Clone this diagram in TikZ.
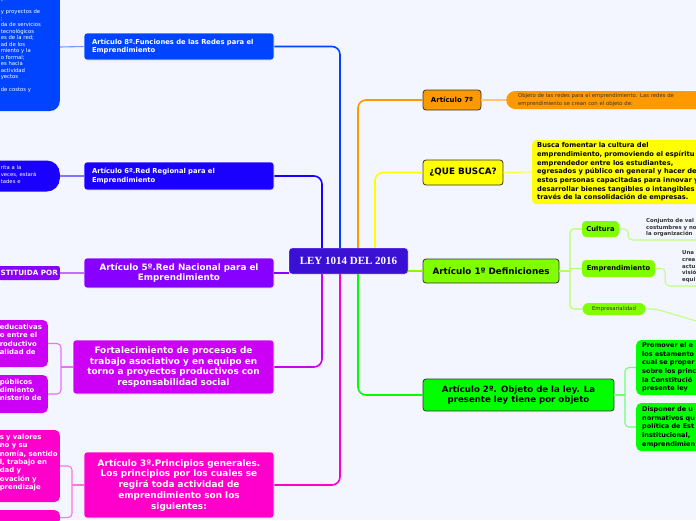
\documentclass[tikz,border=0pt]{standalone}
\usepackage{fontspec}
\setmainfont{DejaVu Sans}
\newfontfamily\leyfont{Liberation Serif}
\usetikzlibrary{positioning}

\definecolor{fondo}{HTML}{F3F6FE}
\definecolor{azul}{HTML}{0044FF}
\definecolor{azulrey}{HTML}{1A00FF}
\definecolor{violeta}{HTML}{8800FF}
\definecolor{purpura}{HTML}{CC00F5}
\definecolor{rosa}{HTML}{FF00CC}
\definecolor{indigo}{HTML}{3A10D4}
\definecolor{naranja}{HTML}{FF9900}
\definecolor{amarillo}{HTML}{FFFF00}
\definecolor{lima}{HTML}{80FF00}
\definecolor{verde}{HTML}{00FF00}
\definecolor{borde}{HTML}{333333}

\newcommand{\fsz}[2]{\fontsize{#1}{#2}\selectfont}

\begin{document}
\begin{tikzpicture}[x=1pt,y=-1pt,
	left node/.style={rectangle,rounded corners=3pt,draw=white,line width=0.6pt,text=white,inner sep=0pt,minimum width=190pt},
	right node/.style={rectangle,rounded corners=3pt,draw=borde,line width=0.8pt,text=black,inner sep=0pt},
	leaf node/.style={rectangle,inner sep=0pt,align=left},
	branch/.style={rounded corners=8pt,line width=1.6pt},
	twig/.style={rounded corners=4pt,line width=1.1pt}]

	\useasboundingbox (0,0) rectangle (696,520);
	\fill[fondo] (0,0) rectangle (696,520);

	% centre
	\node[rectangle,rounded corners=3pt,fill=indigo,draw=white,text=white,minimum width=119pt,minimum height=26pt,font=\leyfont\bfseries\fsz{11}{12}] (Ley) at (348.5,261) {LEY 1014 DEL 2016};

	% left side
	\node[left node,fill=azul,text width=174pt,align=left,minimum height=27pt,font=\bfseries\fsz{6.8}{8.8}] (Art8) at (179,46.5) {Artículo 8º.Funciones de las Redes para el\\Emprendimiento};
	\node[left node,fill=azulrey,text width=174pt,align=left,minimum height=28pt,font=\bfseries\fsz{6.8}{8.8}] (Art6) at (179,176) {Artículo 6º.Red Regional para el\\Emprendimiento};
	\node[left node,fill=violeta,align=center,minimum height=30pt,font=\bfseries\fsz{8.8}{10.5}] (Art5) at (179,273) {Artículo 5º.Red Nacional para el\\Emprendimiento};
	\node[left node,fill=purpura,align=center,minimum width=201pt,minimum height=54pt,font=\bfseries\fsz{8.9}{10.8}] (Fort) at (173.5,367) {Fortalecimiento de procesos de\\trabajo asociativo y en equipo en\\torno a proyectos productivos con\\responsabilidad social};
	\node[left node,fill=rosa,align=center,minimum height=66pt,font=\bfseries\fsz{8.9}{10.8}] (Art3) at (179,485) {Artículo 3º.Principios generales.\\Los principios por los cuales se\\regirá toda actividad de\\emprendimiento son los\\siguientes:};

	\node[leaf node,fill=azul,rounded corners=10pt,anchor=east,text=white,text width=98pt,minimum height=128pt,inner xsep=1pt,font=\fsz{5.3}{6.5}] (Func) at (60,47) {\leftskip=40pt\mbox{}\\[6pt]yo\\[6.5pt]y proyectos de\\;\\da de servicios\\tecnológicos\\es de la red;\\ad de los\\miento y la\\o formal;\\es hacia\\actividad\\yectos\\[6.5pt]de costos y\\[6.5pt]\ Invima,};
	\node[leaf node,fill=azulrey,rounded corners=13pt,anchor=east,text=white,text width=98pt,minimum height=31pt,inner xsep=1pt,font=\fsz{5.3}{7}] (Red6) at (60,176) {\leftskip=40pt rita a la\\veces, estará\\tades e\\[-3pt]\mbox{}};
	\node[leaf node,fill=violeta,rounded corners=2pt,anchor=east,text=white,inner xsep=2pt,minimum height=14pt,font=\bfseries\fsz{7.2}{8}] (Const) at (60,273) {STITUIDA POR};
	\node[leaf node,fill=purpura,rounded corners=5pt,anchor=east,text=white,text width=98pt,minimum height=47pt,inner xsep=1pt,font=\bfseries\fsz{6.9}{8.3}] (Educa) at (48,343.5) {\leftskip=51pt educativas\\o entre el\\roductivo\\alidad de\\\mbox{}};
	\node[leaf node,fill=purpura,rounded corners=5pt,anchor=east,text=white,text width=98pt,minimum height=38pt,inner xsep=1pt,font=\bfseries\fsz{6.9}{8.3}] (Publi) at (48,394) {\leftskip=51pt públicos\\dimiento\\nisterio de\\\mbox{}};
	\node[leaf node,fill=rosa,rounded corners=5pt,anchor=east,text=white,text width=98pt,minimum height=72pt,inner xsep=1pt,font=\bfseries\fsz{6.9}{8.3}] (Valor) at (60,466) {\leftskip=39pt s y valores\\no y su\\nomía, sentido\\l, trabajo en\\dad y\\ovación y\\prendizaje\\\mbox{}};
	\node[leaf node,fill=rosa,rounded corners=5pt,anchor=north east,text=white,text width=98pt,inner xsep=1pt,inner ysep=4pt,font=\bfseries\fsz{6.9}{8.3}] (Trab) at (60,510) {\leftskip=39pt e trabajo};

	% right side
	\node[right node,fill=naranja,minimum width=58pt,minimum height=20pt,font=\bfseries\fsz{7}{8}] (Art7) at (452,100) {Artículo 7º};
	\node[right node,fill=amarillo,minimum width=80pt,minimum height=25pt,font=\bfseries\fsz{8.8}{10}] (Busca) at (463,172.5) {¿QUE BUSCA?};
	\node[right node,fill=lima,minimum width=136pt,minimum height=24pt,font=\bfseries\fsz{8.8}{10}] (Art1) at (491,271) {Artículo 1º Definiciones};
	\node[right node,fill=verde,minimum width=191pt,minimum height=32pt,align=center,font=\bfseries\fsz{8.6}{10.2}] (Art2) at (518.5,395) {Artículo 2º. Objeto de la ley. La\\presente ley tiene por objeto};

	\node[leaf node,fill=naranja,rounded corners=9pt,anchor=west,text width=180pt,minimum height=18pt,inner xsep=12pt,text=borde,font=\fsz{5.3}{8}] (Objeto) at (506,100) {Objeto de las redes para el emprendimiento. Las redes de\\emprendimiento se crean con el objeto de:};
	\node[leaf node,fill=amarillo,rounded corners=4pt,anchor=west,text width=185pt,minimum height=64pt,inner xsep=5pt,font=\bfseries\fsz{6.7}{8.7}] (Fomento) at (532,172) {Busca fomentar la cultura del\\emprendimiento, promoviendo el espíritu\\emprendedor entre los estudiantes,\\egresados y público en general y hacer de\\estos personas capacitadas para innovar y\\desarrollar bienes tangibles o intangibles a\\través de la consolidación de empresas.};

	\node[leaf node,fill=lima,rounded corners=4pt,minimum width=37pt,minimum height=16pt,font=\bfseries\fsz{6.8}{8}] (Cultura) at (600.5,229) {Cultura};
	\node[leaf node,fill=lima,rounded corners=4pt,minimum width=73pt,minimum height=17pt,font=\bfseries\fsz{6.8}{8}] (Empr) at (618.5,268.5) {Emprendimiento};
	\node[leaf node,fill=lima,rounded corners=6pt,minimum width=63pt,minimum height=12pt,text=borde,font=\fsz{5.4}{6}] (Empresa) at (614,309) {Empresarialidad};
	\node[leaf node,anchor=south west,inner sep=1pt,text=borde,font=\bfseries\fsz{5.4}{6.5}] (CultDef) at (645,238) {Conjunto de val\\costumbres y no\\la organización};
	\node[leaf node,anchor=south west,inner sep=1pt,text=borde,font=\bfseries\fsz{5.4}{6.7}] (EmprDef) at (681,284) {Una\\crea\\actu\\visió\\equi};
	\coordinate (CultEnd) at (700,240);
	\coordinate (EmprEnd) at (700,286);
	\coordinate (EmpresaEnd) at (740,334);

	\node[leaf node,fill=verde,rounded corners=5pt,anchor=west,text width=80pt,minimum height=55pt,inner xsep=6pt,font=\bfseries\fsz{6.5}{8.6}] (Promover) at (636,367.5) {Promover el e\\los estamento\\cual se proper\\sobre los princ\\la Constitució\\presente ley};
	\node[leaf node,fill=verde,rounded corners=5pt,anchor=west,text width=80pt,minimum height=48pt,inner xsep=6pt,font=\bfseries\fsz{6.5}{8.6}] (Disponer) at (636,427) {Disponer de u\\normativos qu\\política de Est\\institucional, \\emprendimien};

	% forks
	\coordinate (Fortfork) at (61,367);
	\coordinate (Art3fork) at (72,485);
	\coordinate (Art1fork) at (570,271);
	\coordinate (Art2fork) at (625,395);

	% main branches
	\draw[branch,azul] ([xshift=-8.5pt]Ley.north) |- (Art8.east);
	\draw[branch,azulrey] ([xshift=-26.5pt]Ley.north) |- (Art6.east);
	\draw[branch,violeta] (Art5.east) -- (Art5.east -| Ley.west);
	\draw[branch,purpura] ([xshift=-26.5pt]Ley.south) |- (Fort.east);
	\draw[branch,rosa] ([xshift=-8.5pt]Ley.south) |- (Art3.east);
	\draw[branch,naranja] ([xshift=9.5pt]Ley.north) |- (Art7.west);
	\draw[branch,amarillo] ([xshift=26.5pt]Ley.north) |- (Busca.west);
	\draw[branch,lima] (Art1.west -| Ley.east) -- (Art1.west);
	\draw[branch,verde] ([xshift=9.5pt]Ley.south) |- (Art2.west);

	% twigs
	\draw[twig,azul!55!white] (Func.east) -- (Art8.west);
	\draw[twig,azulrey!55!white] (Red6.east) -- (Art6.west);
	\draw[twig,violeta!55!white] (Const.east) -- (Art5.west);
	\draw[twig,purpura!55!white] (Educa.east) -| (Fortfork) |- (Publi.east);
	\draw[twig,purpura!55!white] (Fortfork) -- (Fort.west);
	\draw[twig,rosa!55!white] (Valor.east) -| (Art3fork) |- (Trab.east);
	\draw[twig,rosa!55!white] (Art3fork) -- (Art3.west);
	\draw[twig,naranja!55!white] (Art7.east) -- (Objeto.west);
	\draw[twig,amarillo!70!white] (Busca.east) -- (Fomento.west);
	\draw[twig,lima!60!white] (Art1.east) -- (Art1fork);
	\draw[twig,lima!60!white] (Cultura.west) -| (Art1fork) |- (Empresa.west);
	\draw[twig,lima!60!white] (Empr.west) -- (Empr.west -| Art1fork);
	\draw[twig,lima!50!white] (Cultura.east) -- ++(9,0) |- (CultEnd);
	\draw[twig,lima!50!white] (Empr.east) -- ++(10,0) |- (EmprEnd);
	\draw[twig,lima!50!white] (Empresa.east) -- ++(10,0) -- (EmpresaEnd);
	\draw[twig,verde!55!white] (Art2.east) -- (Art2fork);
	\draw[twig,verde!55!white] (Promover.west) -| (Art2fork) |- (Disponer.west);
\end{tikzpicture}
\end{document}
